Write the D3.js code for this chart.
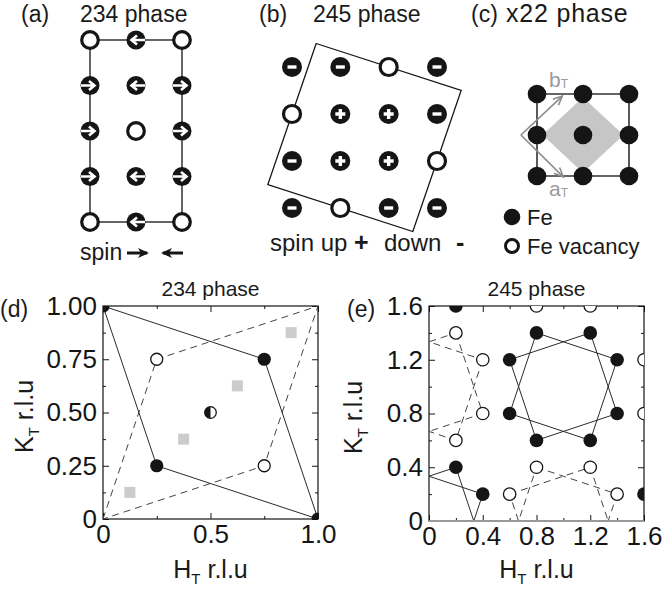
<!DOCTYPE html>
<html><head><meta charset="utf-8">
<script src="https://cdn.jsdelivr.net/npm/d3@7"></script>
<style>
body{margin:0;background:#fff}
svg{display:block}
text{font-family:"Liberation Sans",Arial,sans-serif;fill:#1a1a1a}
</style>
</head><body>
<svg id="chart" width="664" height="593"></svg>
<script>
// ---------------- data ----------------
// (a) 234 phase: rows top->bottom, columns left->right
const phase234Rows = [
  ["vac","left","vac"],
  ["right","left","right"],
  ["right","vac","right"],
  ["right","left","right"],
  ["vac","left","vac"]
];
const phase234Cell = [[0,0],[2,0],[2,4],[0,4]];

// (b) 245 phase: '-' spin down, '+' spin up, 'o' vacancy
const phase245Rows = ["--o-","o++-","-++o","-o--"];
const phase245Cell = [[0.5,-0.5],[3.5,0.5],[2.5,3.5],[-0.5,2.5]];

// (c) x22 phase
const x22Fe = [[0,0],[1,0],[2,0],[0,1],[1,1],[2,1],[0,2],[1,2],[2,2]];
const x22Cell = [[0,0],[2,0],[2,2],[0,2]];
const x22Diamond = [[1,0.08],[1.88,1],[1,1.92],[0.12,1]];
const x22Origin = [-0.35,1];
const x22Vectors = [{name:"b",tip:[0.55,0.05]},{name:"a",tip:[0.57,2.02]}];

// (d) 234 phase reciprocal
const dFilled = [[0,1],[0.75,0.75],[0.25,0.25],[1,0]];
const dOpen = [[0.25,0.75],[0.75,0.25]];
const dHalf = [[0.5,0.5]];
const dSquares = [[0.125,0.125],[0.375,0.375],[0.625,0.625],[0.875,0.875]];
const dSolid = [[0,1],[0.75,0.75],[1,0],[0.25,0.25]];
const dDashed = [[0,0],[0.25,0.75],[1,1],[0.75,0.25]];
const dXMajor = [0,0.5,1], dXLabels = ["0","0.5","1.0"], dXMinor = [0.25,0.75];
const dYMajor = [0,0.25,0.5,0.75,1], dYLabels = ["0","0.25","0.50","0.75","1.00"];
const dYMinor = [0.125,0.375,0.625,0.875];

// (e) 245 phase reciprocal
const eFilled = [[0.2,1.6],[0.8,1.4],[1.2,1.4],[0.6,1.2],[1.4,1.2],[0.6,0.8],[1.4,0.8],
                 [0.8,0.6],[1.2,0.6],[0.2,0.4],[0.4,0.2],[1.6,0.2]];
const eOpen = [[0.8,1.6],[1.2,1.6],[0.2,1.4],[0.4,1.2],[1.6,1.2],[0.4,0.8],[1.6,0.8],
               [0.2,0.6],[0.8,0.4],[1.2,0.4],[0.6,0.2],[1.4,0.2]];
const eSolidSquares = [
  [[0.6,1.2],[1.2,1.4],[1.4,0.8],[0.8,0.6]],
  [[0.8,1.4],[1.4,1.2],[1.2,0.6],[0.6,0.8]],
  [[0.2,0.4],[0.4,-0.2],[-0.2,-0.4],[-0.4,0.2]],
  [[0.4,0.2],[0.2,-0.4],[-0.4,-0.2],[-0.2,0.4]]
];
const eDashedSquares = [
  [[0.2,1.4],[0.4,0.8],[-0.2,0.6],[-0.4,1.2]],
  [[0.4,1.2],[0.2,0.6],[-0.4,0.8],[-0.2,1.4]],
  [[0.6,0.2],[1.2,0.4],[1.4,-0.2],[0.8,-0.4]],
  [[0.8,0.4],[1.4,0.2],[1.2,-0.4],[0.6,-0.2]]
];
const eMajor = [0,0.4,0.8,1.2,1.6], eLabels = ["0","0.4","0.8","1.2","1.6"];
const eMinor = [0.2,0.6,1.0,1.4];

// ---------------- drawing ----------------
const svg = d3.select("#chart");
const INK = "#151515";
const defs = svg.append("defs");

function txt(g, x, y, s, size, anchor, extra) {
  const t = g.append("text").attr("x", x).attr("y", y).attr("font-size", size)
    .attr("text-anchor", anchor || "start").text(s);
  if (extra) extra(t);
  return t;
}

// ===== (a) =====
{
  const g = svg.append("g");
  const x = d3.scaleLinear([0,2],[90,182]);
  const y = d3.scaleLinear([0,4],[40,222]);
  txt(g, 21, 22, "(a)", 23);
  txt(g, 80, 22, "234 phase", 23);
  g.append("path").attr("d", d3.line().x(d=>x(d[0])).y(d=>y(d[1]))(phase234Cell)+"Z")
    .attr("fill","none").attr("stroke","#333").attr("stroke-width",1.5);
  const cells = [];
  phase234Rows.forEach((row,r)=>row.forEach((t,c)=>cells.push({c,r,t})));
  const m = g.selectAll("g.m").data(cells).join("g")
    .attr("transform", d=>`translate(${x(d.c)},${y(d.r)})`);
  m.filter(d=>d.t==="vac").append("circle").attr("r",8.3)
    .attr("fill","#fff").attr("stroke",INK).attr("stroke-width",3.2);
  const sp = m.filter(d=>d.t!=="vac");
  sp.append("circle").attr("r",9.5).attr("fill",INK);
  sp.append("path").attr("d","M-9,0 L4,0 M-1,-4.5 L4.5,0 L-1,4.5")
    .attr("fill","none").attr("stroke","#fff").attr("stroke-width",2.6)
    .attr("transform", d=>d.t==="left" ? "scale(-1,1)" : null);
  // legend
  txt(g, 80, 260, "spin", 23);
  const arr = (x1,x2,yy)=>{
    g.append("line").attr("x1",x1).attr("x2",x2).attr("y1",yy).attr("y2",yy)
      .attr("stroke",INK).attr("stroke-width",3);
    const dir = Math.sign(x2-x1);
    g.append("path").attr("d",`M${x2+dir*2},${yy} L${x2-dir*9},${yy-5} L${x2-dir*6},${yy} L${x2-dir*9},${yy+5}Z`)
      .attr("fill",INK);
  };
  arr(127,147,253);
  arr(183,163,253);
}

// ===== (b) =====
{
  const g = svg.append("g");
  const x = d3.scaleLinear([0,3],[292,437]);
  const y = d3.scaleLinear([0,3],[67,208]);
  txt(g, 259, 22, "(b)", 23);
  txt(g, 313, 22, "245 phase", 23);
  g.append("path").attr("d", d3.line().x(d=>x(d[0])).y(d=>y(d[1]))(phase245Cell)+"Z")
    .attr("fill","none").attr("stroke",INK).attr("stroke-width",1.3);
  const cells = [];
  phase245Rows.forEach((row,r)=>row.split("").forEach((t,c)=>cells.push({c,r,t})));
  const m = g.selectAll("g.m").data(cells).join("g")
    .attr("transform", d=>`translate(${x(d.c)},${y(d.r)})`);
  m.filter(d=>d.t==="o").append("circle").attr("r",8.5)
    .attr("fill","#fff").attr("stroke",INK).attr("stroke-width",3.2);
  const s = m.filter(d=>d.t!=="o");
  s.append("circle").attr("r",10).attr("fill",INK);
  s.append("path").attr("d", d=>d.t==="+" ? "M-5,0 L5,0 M0,-5 L0,5" : "M-4.5,0 L4.5,0")
    .attr("stroke","#fff").attr("stroke-width",3.4);
  txt(g, 270, 251, "spin up", 24);
  txt(g, 354, 251, "+", 25, "start", t=>t.attr("font-weight","bold"));
  txt(g, 384, 251, "down", 24);
  txt(g, 456, 251, "-", 25, "start", t=>t.attr("font-weight","bold"));
}

// ===== (c) =====
{
  const g = svg.append("g");
  const x = d3.scaleLinear([0,2],[537,629]);
  const y = d3.scaleLinear([0,2],[94,176]);
  txt(g, 471, 22, "(c)", 23);
  txt(g, 506, 22, "x22 phase", 25, "start", t=>t.attr("letter-spacing",0.8));
  const ln = d3.line().x(d=>x(d[0])).y(d=>y(d[1]));
  g.append("path").attr("d", ln(x22Diamond)+"Z").attr("fill","#c6c6c6");
  g.append("path").attr("d", ln(x22Cell)+"Z").attr("fill","none")
    .attr("stroke","#333").attr("stroke-width",1.6);
  g.selectAll("circle.fe").data(x22Fe).join("circle")
    .attr("cx",d=>x(d[0])).attr("cy",d=>y(d[1])).attr("r",9.3).attr("fill",INK);
  const GR = "#8c8c8c";
  x22Vectors.forEach(v=>{
    const x0=x(x22Origin[0]), y0=y(x22Origin[1]), x1=x(v.tip[0]), y1=y(v.tip[1]);
    g.append("line").attr("x1",x0).attr("y1",y0).attr("x2",x1).attr("y2",y1)
      .attr("stroke",GR).attr("stroke-width",1.6);
    const a = Math.atan2(y1-y0,x1-x0), L=10, w=0.42;
    g.append("path").attr("d",`M${x1-L*Math.cos(a-w)},${y1-L*Math.sin(a-w)} L${x1},${y1} L${x1-L*Math.cos(a+w)},${y1-L*Math.sin(a+w)}`)
      .attr("fill","none").attr("stroke",GR).attr("stroke-width",1.6);
  });
  const lab = (s, lx, ly)=>{
    const t = g.append("text").attr("x",lx).attr("y",ly).attr("font-size",21).style("fill","#9a9a9a");
    t.append("tspan").text(s);
    t.append("tspan").attr("font-size",12).attr("dy",1).text("T");
  };
  lab("b", 549, 87);
  lab("a", 549, 196);
  // legend
  g.append("circle").attr("cx",512).attr("cy",217).attr("r",8.3).attr("fill",INK);
  txt(g, 527, 225, "Fe", 22);
  g.append("circle").attr("cx",512).attr("cy",246).attr("r",6.5)
    .attr("fill","#fff").attr("stroke",INK).attr("stroke-width",3);
  txt(g, 527, 254, "Fe vacancy", 22);
}

// ===== axes helper =====
function panel(opts) {
  const {x, y, id} = opts;
  const g = svg.append("g");
  const [x0,x1] = x.range(), [y0,y1] = y.range();
  defs.append("clipPath").attr("id",id).append("rect")
    .attr("x",x0).attr("y",y1).attr("width",x1-x0).attr("height",y0-y1);
  const style = (a)=>{ a.select(".domain").remove(); a.selectAll("line").attr("stroke",INK); };
  const H = y0-y1, W = x1-x0;
  const mk = (axisFn, scale, vals, size, labels, tr) => {
    const ax = axisFn(scale).tickValues(vals).tickSizeInner(-size).tickSizeOuter(0).tickPadding(6)
      .tickFormat(labels ? ((d,i)=>labels[i]) : "");
    const a = g.append("g").attr("transform",tr).call(ax);
    style(a);
    a.attr("font-family",null).attr("font-size",null);
    a.selectAll("text").attr("font-size",26).style("fill",INK);
    return a;
  };
  mk(d3.axisBottom, x, opts.xMajor, 6, opts.xLabels, `translate(0,${y0})`);
  mk(d3.axisBottom, x, opts.xMinor, 3, null, `translate(0,${y0})`);
  mk(d3.axisTop, x, opts.xMajor, 6, null, `translate(0,${y1})`);
  mk(d3.axisTop, x, opts.xMinor, 3, null, `translate(0,${y1})`);
  mk(d3.axisLeft, y, opts.yMajor, 6, opts.yLabels, `translate(${x0},0)`);
  mk(d3.axisLeft, y, opts.yMinor, 3, null, `translate(${x0},0)`);
  mk(d3.axisRight, y, opts.yMajor, 6, null, `translate(${x1},0)`);
  mk(d3.axisRight, y, opts.yMinor, 3, null, `translate(${x1},0)`);
  g.append("rect").attr("x",x0).attr("y",y1).attr("width",W).attr("height",H)
    .attr("fill","none").attr("stroke",INK).attr("stroke-width",1.2);
  const plot = g.append("g").attr("clip-path",`url(#${id})`);
  // labels
  txt(g, opts.tagX, 317, opts.tag, 23);
  txt(g, (x0+x1)/2, 296, opts.title, 21, "middle");
  const ht = g.append("text").attr("x",(x0+x1)/2).attr("y",578).attr("font-size",25)
    .attr("text-anchor","middle");
  ht.append("tspan").text("H");
  ht.append("tspan").attr("font-size",15).attr("dy",6).text("T");
  ht.append("tspan").attr("dy",-6).text(" r.l.u");
  const kt = g.append("text").attr("transform",`translate(${opts.kx},${(y0+y1)/2+4}) rotate(-90)`)
    .attr("font-size",25).attr("text-anchor","middle");
  kt.append("tspan").text("K");
  kt.append("tspan").attr("font-size",15).attr("dy",6).text("T");
  kt.append("tspan").attr("dy",-6).text(" r.l.u");
  return {g, plot};
}

const solidStyle = p=>p.attr("fill","none").attr("stroke","#2a2a2a").attr("stroke-width",1);
const dashStyle = p=>p.attr("fill","none").attr("stroke","#444").attr("stroke-width",1).attr("stroke-dasharray","7,5");

// ===== (d) =====
{
  const x = d3.scaleLinear([0,1],[103,318]);
  const y = d3.scaleLinear([0,1],[519,306]);
  const {plot} = panel({x,y,id:"clipD",xMajor:dXMajor,xLabels:dXLabels,xMinor:dXMinor,
    yMajor:dYMajor,yLabels:dYLabels,yMinor:dYMinor,tag:"(d)",tagX:0,title:"234 phase",kx:33});
  const ln = d3.line().x(d=>x(d[0])).y(d=>y(d[1]));
  plot.append("path").attr("d",ln(dDashed)+"Z").call(dashStyle);
  plot.append("path").attr("d",ln(dSolid)+"Z").call(solidStyle);
  plot.selectAll("rect.sq").data(dSquares).join("rect")
    .attr("x",d=>x(d[0])-5.5).attr("y",d=>y(d[1])-5.5).attr("width",11).attr("height",11)
    .attr("fill","#cccccc");
  plot.selectAll("circle.o").data(dOpen).join("circle")
    .attr("cx",d=>x(d[0])).attr("cy",d=>y(d[1])).attr("r",6)
    .attr("fill","#fff").attr("stroke",INK).attr("stroke-width",1.3);
  plot.selectAll("circle.f").data(dFilled).join("circle")
    .attr("cx",d=>x(d[0])).attr("cy",d=>y(d[1])).attr("r",6.6).attr("fill",INK);
  dHalf.forEach(d=>{
    const cx=x(d[0]), cy=y(d[1]), r=5.8;
    plot.append("circle").attr("cx",cx).attr("cy",cy).attr("r",r)
      .attr("fill","#fff").attr("stroke",INK).attr("stroke-width",1.3);
    plot.append("path").attr("d",`M${cx},${cy-r} A${r},${r} 0 0 0 ${cx},${cy+r}Z`).attr("fill",INK);
  });
}

// ===== (e) =====
{
  const x = d3.scaleLinear([0,1.6],[429,644]);
  const y = d3.scaleLinear([0,1.6],[521,306]);
  const {g, plot} = panel({x,y,id:"clipE",xMajor:eMajor,xLabels:eLabels,xMinor:eMinor,
    yMajor:eMajor,yLabels:eLabels,yMinor:eMinor,tag:"(e)",tagX:347,title:"245 phase",kx:362});
  const ln = d3.line().x(d=>x(d[0])).y(d=>y(d[1]));
  plot.selectAll("path.ds").data(eDashedSquares).join("path")
    .attr("d",d=>ln(d)+"Z").call(dashStyle);
  plot.selectAll("path.ss").data(eSolidSquares).join("path")
    .attr("d",d=>ln(d)+"Z").call(solidStyle);
  plot.selectAll("circle.o").data(eOpen).join("circle")
    .attr("cx",d=>x(d[0])).attr("cy",d=>y(d[1])).attr("r",6.2)
    .attr("fill","#fff").attr("stroke",INK).attr("stroke-width",1.3);
  plot.selectAll("circle.f").data(eFilled).join("circle")
    .attr("cx",d=>x(d[0])).attr("cy",d=>y(d[1])).attr("r",6.8).attr("fill",INK);
  g.append("line").attr("x1",x(0)).attr("x2",x(1.6)).attr("y1",y(0)).attr("y2",y(0))
    .attr("stroke","#999").attr("stroke-width",2);
}
</script>
</body></html>
